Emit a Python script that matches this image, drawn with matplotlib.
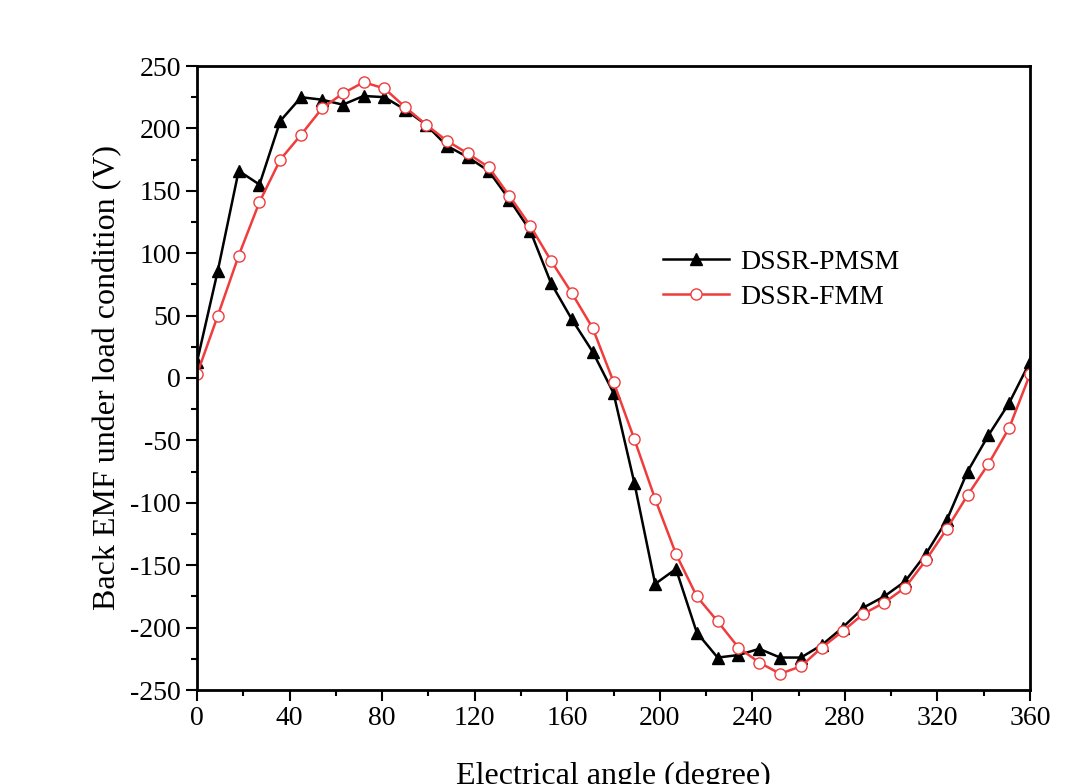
import matplotlib
matplotlib.use("Agg")
import matplotlib.pyplot as plt
import numpy as np
from matplotlib.ticker import MultipleLocator

plt.rcParams['font.family'] = ['Liberation Serif', 'DejaVu Serif']
plt.rcParams['axes.unicode_minus'] = False

angle = list(range(0, 361, 9))

pmsm = [13, 86, 166, 155, 206, 225, 223, 219, 226, 225,
        215, 203, 186, 177, 166, 143, 118, 76, 47, 21,
        -12, -84, -165, -153, -204, -224, -222, -217, -224, -224,
        -214, -200, -184, -175, -163, -141, -114, -75, -46, -20, 13]

fmm = [3, 50, 98, 141, 175, 195, 216, 228, 237, 232,
       217, 203, 190, 180, 169, 146, 122, 94, 68, 40,
       -3, -49, -97, -141, -175, -195, -216, -228, -237, -231,
       -216, -203, -189, -180, -168, -146, -121, -94, -69, -40, 3]

fig = plt.figure(figsize=(10.87, 7.84), dpi=100)
ax = fig.add_axes([197/1087, 1-690/784, 833/1087, 624/784])

ax.plot(angle, pmsm, color='black', lw=1.8, marker='^', ms=9,
        mfc='black', mec='black', label='DSSR-PMSM')
ax.plot(angle, fmm, color='#f03c3c', lw=1.8, marker='o', ms=8,
        mfc='white', mec='#f03c3c', label='DSSR-FMM')

ax.set_xlim(0, 360)
ax.set_ylim(-250, 250)
ax.xaxis.set_major_locator(MultipleLocator(40))
ax.xaxis.set_minor_locator(MultipleLocator(20))
ax.yaxis.set_major_locator(MultipleLocator(50))
ax.yaxis.set_minor_locator(MultipleLocator(25))
ax.tick_params(which='both', direction='out', top=False, right=False,
               labelsize=20, width=1.5)
ax.tick_params(which='major', length=8)
ax.tick_params(which='minor', length=4)
for s in ax.spines.values():
    s.set_linewidth(2)

ax.set_xlabel('Electrical angle (degree)', fontsize=23, labelpad=22)
ax.set_ylabel('Back EMF under load condition (V)', fontsize=23, labelpad=6)

ax.legend(loc='upper left', bbox_to_anchor=(0.53, 0.746), frameon=False,
          fontsize=20, handlelength=2.35, handletextpad=0.4, labelspacing=0.33)

fig.savefig('out.png', dpi=100)
